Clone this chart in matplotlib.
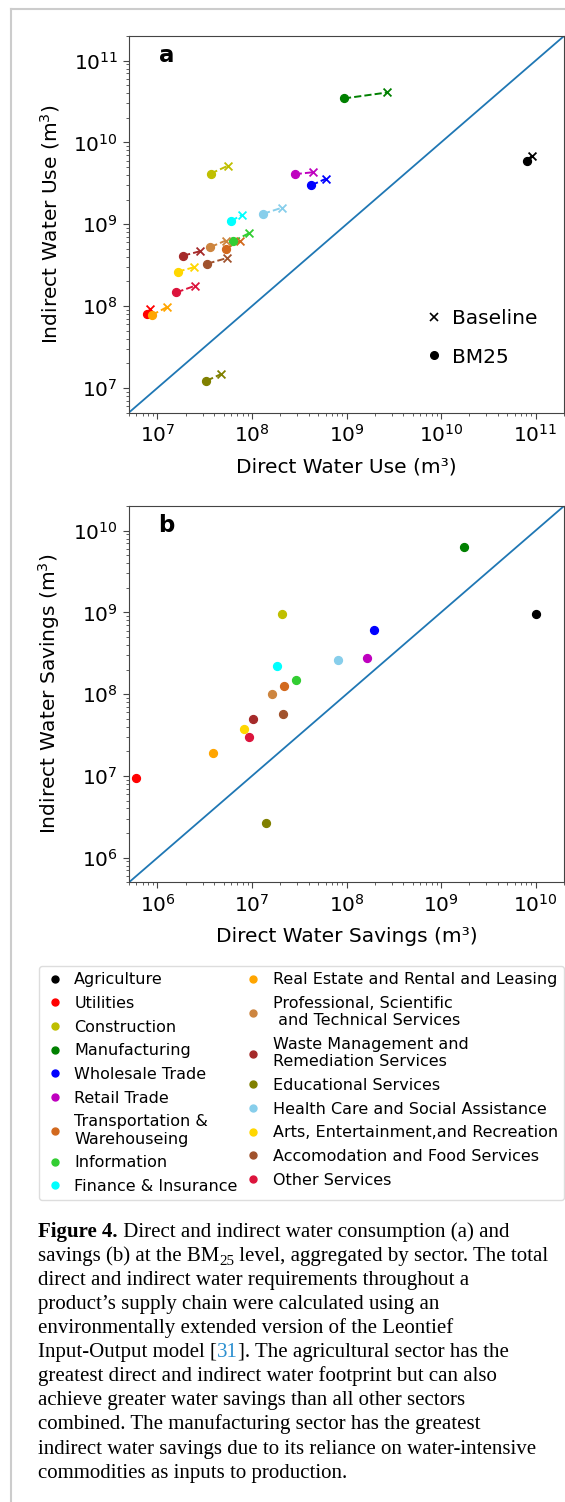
import numpy as np
import matplotlib.pyplot as plt
from matplotlib.lines import Line2D

sectors = ['Agriculture', 'Utilities', 'Construction', 'Manufacturing', 'Wholesale Trade',
           'Retail Trade', 'Transportation &\nWarehouseing', 'Information', 'Finance & Insurance',
           'Real Estate and Rental and Leasing', 'Professional, Scientific\n and Technical Services',
           'Waste Management and\nRemediation Services', 'Educational Services',
           'Health Care and Social Assistance', 'Arts, Entertainment,and Recreation',
           'Accomodation and Food Services', 'Other Services']
colors = ['k', 'r', 'y', 'g', 'b', 'm', 'chocolate', 'limegreen', 'cyan', 'orange', 'peru',
          'brown', 'olive', 'skyblue', 'gold', 'sienna', 'crimson']

# panel a: water use, baseline vs BM25 (m3)
direct_base = [9.1e10, 8.3e6, 5.6e7, 2.7e9, 6.1e8, 4.47e8, 7.45e7, 9.3e7, 7.8e7,
               1.26e7, 5.25e7, 2.83e7, 4.75e7, 2.1e8, 2.44e7, 5.47e7, 2.5e7]
indirect_base = [6.85e9, 9.1e7, 5.2e9, 4.08e10, 3.61e9, 4.33e9, 6.25e8, 7.76e8, 1.3e9,
                 9.7e7, 6.3e8, 4.68e8, 1.48e7, 1.6e9, 2.98e8, 3.87e8, 1.77e8]
direct_bm25 = [8.15e10, 7.8e6, 3.65e7, 9.4e8, 4.24e8, 2.83e8, 5.25e7, 6.37e7, 5.99e7,
               8.7e6, 3.64e7, 1.87e7, 3.3e7, 1.31e8, 1.63e7, 3.38e7, 1.59e7]
indirect_bm25 = [5.96e9, 7.9e7, 4.16e9, 3.45e10, 3.0e9, 4.09e9, 4.99e8, 6.25e8, 1.09e9,
                 7.76e7, 5.27e8, 4.13e8, 1.22e7, 1.34e9, 2.63e8, 3.3e8, 1.47e8]

# panel b: water savings (m3)
direct_sav = [1.01e10, 5.98e5, 2.06e7, 1.75e9, 1.97e8, 1.64e8, 2.19e7, 2.9e7, 1.85e7,
              3.88e6, 1.64e7, 1.02e7, 1.4e7, 8.1e7, 8.3e6, 2.12e7, 9.25e6]
indirect_sav = [9.6e8, 9.35e6, 9.6e8, 6.37e9, 6.15e8, 2.75e8, 1.25e8, 1.5e8, 2.19e8,
                1.91e7, 1.01e8, 4.98e7, 2.64e6, 2.6e8, 3.75e7, 5.68e7, 3.02e7]

caption = [
    [("Figure 4.", {'weight': 'bold'}), (" Direct and indirect water consumption (a) and", {})],
    [("savings (b) at the BM", {}), ("25", {'sub': True}), (" level, aggregated by sector. The total", {})],
    [("direct and indirect water requirements throughout a", {})],
    [("product\u2019s supply chain were calculated using an", {})],
    [("environmentally extended version of the Leontief", {})],
    [("Input-Output model [", {}), ("31", {'color': '#2b8fd0'}), ("]. The agricultural sector has the", {})],
    [("greatest direct and indirect water footprint but can also", {})],
    [("achieve greater water savings than all other sectors", {})],
    [("combined. The manufacturing sector has the greatest", {})],
    [("indirect water savings due to its reliance on water-intensive", {})],
    [("commodities as inputs to production.", {})],
]

W, H = 565, 1502
fig = plt.figure(figsize=(W / 100, H / 100), dpi=100)

FS = 14.5
SPINE = '#444444'


def style(ax, lo, hi):
    ax.set_xscale('log')
    ax.set_yscale('log')
    ax.plot([lo, hi], [lo, hi], color='#1f77b4', lw=1.3, zorder=1)
    ax.set_xlim(lo, hi)
    ax.set_ylim(lo, hi)
    ax.tick_params(labelsize=FS, colors=SPINE, labelcolor='k', length=4.5)
    ax.tick_params(axis='x', pad=4)
    ax.tick_params(which='minor', colors=SPINE)
    for s in ax.spines.values():
        s.set_color(SPINE)


def fpos(x0, y0, x1, y1):
    return [x0 / W, 1 - y1 / H, (x1 - x0) / W, (y1 - y0) / H]


# ---- panel a
ax1 = fig.add_axes(fpos(129, 36, 564, 412.5))
style(ax1, 5e6, 2e11)
for i, c in enumerate(colors):
    ax1.plot([direct_bm25[i], direct_base[i]], [indirect_bm25[i], indirect_base[i]],
             '--', color=c, lw=1.4, zorder=2)
    ax1.scatter(direct_bm25[i], indirect_bm25[i], s=32, color=c, marker='o', zorder=3)
    ax1.scatter(direct_base[i], indirect_base[i], s=32, color=c, marker='x', lw=1.3, zorder=3)
ax1.set_xlabel('Direct Water Use (m³)', fontsize=FS, labelpad=8)
ax1.set_ylabel('Indirect Water Use (m$^3$)', fontsize=FS, labelpad=8)
ax1.text(0.068, 0.93, 'a', transform=ax1.transAxes, fontsize=16.5, fontweight='bold')
h_a = [Line2D([], [], ls='none', marker='x', color='k', ms=5.5, mew=1.2),
       Line2D([], [], ls='none', marker='o', color='k', ms=5.5)]
ax1.legend(h_a, ['Baseline', 'BM25'], frameon=False, fontsize=FS, loc='center left',
           bbox_to_anchor=(0.637, 0.198), handlelength=1.0, handletextpad=0.4,
           labelspacing=0.95)

# ---- panel b
ax2 = fig.add_axes(fpos(129, 506, 564, 882.3))
style(ax2, 5e5, 2e10)
for i, c in enumerate(colors):
    ax2.scatter(direct_sav[i], indirect_sav[i], s=32, color=c, marker='o', zorder=3)
ax2.set_xlabel('Direct Water Savings (m³)', fontsize=FS, labelpad=8)
ax2.set_ylabel('Indirect Water Savings (m$^3$)', fontsize=FS, labelpad=8)
ax2.text(0.068, 0.93, 'b', transform=ax2.transAxes, fontsize=16.5, fontweight='bold')

# ---- sector legend
handles = [Line2D([], [], ls='none', marker='o', color=c, ms=5) for c in colors]
fig.legend(handles, sectors, ncol=2, fontsize=11.5, loc='upper left',
           bbox_to_anchor=(39 / W, 1 - 966 / H), borderaxespad=0, handlelength=1.2,
           handletextpad=0.6, columnspacing=0.4, labelspacing=0.54, borderpad=0.4,
           edgecolor='#dddddd', framealpha=1)

# ---- page frame
fig.add_artist(Line2D([11 / W, 1], [1 - 9 / H, 1 - 9 / H], color='#cccccc', lw=1.5))
fig.add_artist(Line2D([11 / W, 11 / W], [0, 1 - 9 / H], color='#cccccc', lw=1.5))

# ---- caption
renderer = fig.canvas.get_renderer()
cap_fs = 15
y = 1236.7
for line in caption:
    x = 38.0
    for txt, opt in line:
        fs = cap_fs * 0.72 if opt.get('sub') else cap_fs
        dy = 4 if opt.get('sub') else 0
        t = fig.text(x / W, 1 - (y + dy) / H, txt, fontsize=fs, family='Liberation Serif',
                     weight=opt.get('weight', 'normal'), color=opt.get('color', 'k'),
                     va='baseline', ha='left')
        x += t.get_window_extent(renderer).width
    y += 24.1

fig.savefig('out.png', dpi=100)
